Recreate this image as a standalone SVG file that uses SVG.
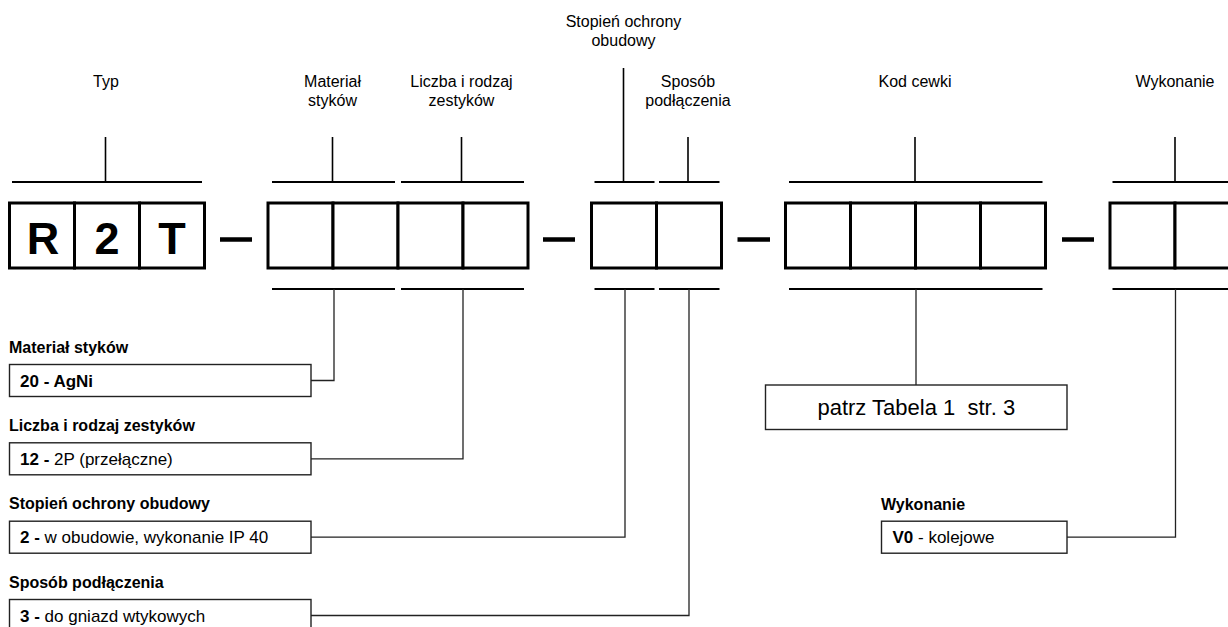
<svg xmlns="http://www.w3.org/2000/svg" width="1228" height="627" viewBox="0 0 1228 627">
<style>
text{font-family:"Liberation Sans",Arial,sans-serif;fill:#000}
.lbl{font-size:16px;text-anchor:middle}
.big{font-size:45px;font-weight:bold;text-anchor:middle}
.hd{font-size:16px;font-weight:bold}
.bd{font-size:17px}
.b{font-weight:bold}
.cell{fill:#fff;stroke:#000;stroke-width:3}
.bar{stroke:#000;stroke-width:2;fill:none}
.tick{stroke:#000;stroke-width:1.6;fill:none}
.dash{stroke:#000;stroke-width:4.5}
.desc{fill:#fff;stroke:#222;stroke-width:1.4}
.con{stroke:#222;stroke-width:1.3;fill:none}
</style>
<rect width="1228" height="627" fill="#fff"/>

<g id="typ">
<text class="lbl" x="106" y="87">Typ</text>
<line class="tick" x1="105.5" y1="137" x2="105.5" y2="182"/>
<line class="bar" x1="12" y1="182" x2="202" y2="182"/>
<rect class="cell" x="9.5" y="203" width="65" height="65"/>
<rect class="cell" x="74.5" y="203" width="65" height="65"/>
<rect class="cell" x="139.5" y="203" width="65" height="65"/>
<text class="big" x="43" y="253.5">R</text>
<text class="big" x="107" y="253.5">2</text>
<text class="big" x="172" y="253.5">T</text>
</g>

<g id="dashes">
<line class="dash" x1="220" y1="239.5" x2="252" y2="239.5"/>
<line class="dash" x1="543" y1="239.5" x2="575" y2="239.5"/>
<line class="dash" x1="737.5" y1="239.5" x2="770" y2="239.5"/>
<line class="dash" x1="1062" y1="239.5" x2="1094" y2="239.5"/>
</g>

<g id="material">
<text class="lbl" x="332.5" y="87">Materiał</text>
<text class="lbl" x="332.5" y="106">styków</text>
<line class="tick" x1="332.5" y1="137" x2="332.5" y2="182"/>
<line class="bar" x1="272" y1="182" x2="395" y2="182"/>
<line class="bar" x1="272" y1="289" x2="395" y2="289"/>
<rect class="cell" x="268" y="203" width="65" height="65"/>
<rect class="cell" x="333" y="203" width="65" height="65"/>
</g>

<g id="liczba">
<text class="lbl" x="461.5" y="87">Liczba i rodzaj</text>
<text class="lbl" x="461.5" y="106">zestyków</text>
<line class="tick" x1="461.5" y1="137" x2="461.5" y2="182"/>
<line class="bar" x1="401" y1="182" x2="524" y2="182"/>
<line class="bar" x1="401" y1="289" x2="524" y2="289"/>
<rect class="cell" x="398" y="203" width="65" height="65"/>
<rect class="cell" x="463" y="203" width="65" height="65"/>
</g>

<g id="stopien">
<text class="lbl" x="623.5" y="27">Stopień ochrony</text>
<text class="lbl" x="623.5" y="46">obudowy</text>
<line class="tick" x1="623.5" y1="68" x2="623.5" y2="182"/>
<line class="bar" x1="594.5" y1="182" x2="654.5" y2="182"/>
<line class="bar" x1="594.5" y1="289" x2="654.5" y2="289"/>
<rect class="cell" x="591.5" y="203" width="65" height="65"/>
</g>

<g id="sposob">
<text class="lbl" x="688" y="87">Sposób</text>
<text class="lbl" x="688" y="106">podłączenia</text>
<line class="tick" x1="688" y1="137" x2="688" y2="182"/>
<line class="bar" x1="659" y1="182" x2="719.5" y2="182"/>
<line class="bar" x1="659" y1="289" x2="719.5" y2="289"/>
<rect class="cell" x="656.5" y="203" width="65" height="65"/>
</g>

<g id="kod">
<text class="lbl" x="915" y="87">Kod cewki</text>
<line class="tick" x1="915" y1="137" x2="915" y2="182"/>
<line class="bar" x1="789" y1="182" x2="1042.5" y2="182"/>
<line class="bar" x1="789" y1="289" x2="1042.5" y2="289"/>
<rect class="cell" x="785.5" y="203" width="65" height="65"/>
<rect class="cell" x="850.5" y="203" width="65" height="65"/>
<rect class="cell" x="915.5" y="203" width="65" height="65"/>
<rect class="cell" x="980.5" y="203" width="65" height="65"/>
</g>

<g id="wykonanie">
<text class="lbl" x="1175" y="87">Wykonanie</text>
<line class="tick" x1="1175" y1="137" x2="1175" y2="182"/>
<line class="bar" x1="1112.5" y1="182" x2="1232" y2="182"/>
<line class="bar" x1="1112.5" y1="289" x2="1232" y2="289"/>
<rect class="cell" x="1110" y="203" width="65" height="65"/>
<rect class="cell" x="1175" y="203" width="65" height="65"/>
</g>

<g id="connectors">
<path class="con" d="M311,380.5 H334 V289"/>
<path class="con" d="M311,458.8 H463 V289"/>
<path class="con" d="M311,537.2 H625 V289"/>
<path class="con" d="M311,615.5 H689 V289"/>
<path class="con" d="M916,289 V385"/>
<path class="con" d="M1067,537.2 H1175.5 V289"/>
</g>

<g id="desc-material">
<text class="hd" x="9" y="352.5">Materiał styków</text>
<rect class="desc" x="9.5" y="364.5" width="301.5" height="32"/>
<text class="bd b" x="20" y="386.5">20 - AgNi</text>
</g>

<g id="desc-liczba">
<text class="hd" x="9" y="431">Liczba i rodzaj zestyków</text>
<rect class="desc" x="9.5" y="442.8" width="301.5" height="32"/>
<text class="bd" x="20" y="464.8"><tspan class="b">12 -</tspan> 2P (przełączne)</text>
</g>

<g id="desc-stopien">
<text class="hd" x="9" y="509.3">Stopień ochrony obudowy</text>
<rect class="desc" x="9.5" y="521.2" width="301.5" height="32"/>
<text class="bd" x="20" y="543.2"><tspan class="b">2 -</tspan> w obudowie, wykonanie IP 40</text>
</g>

<g id="desc-sposob">
<text class="hd" x="9" y="587.7">Sposób podłączenia</text>
<rect class="desc" x="9.5" y="599.5" width="301.5" height="32"/>
<text class="bd" x="20" y="621.5"><tspan class="b">3 -</tspan> do gniazd wtykowych</text>
</g>

<g id="desc-kod">
<rect class="desc" x="765.5" y="385" width="301.5" height="44.5"/>
<text x="916.3" y="415" font-size="22" text-anchor="middle" xml:space="preserve">patrz Tabela 1  str. 3</text>
</g>

<g id="desc-wykonanie">
<text class="hd" x="881" y="510">Wykonanie</text>
<rect class="desc" x="881.5" y="521.2" width="185.5" height="32"/>
<text class="bd" x="892.5" y="543"><tspan class="b">V0</tspan> - kolejowe</text>
</g>
</svg>
